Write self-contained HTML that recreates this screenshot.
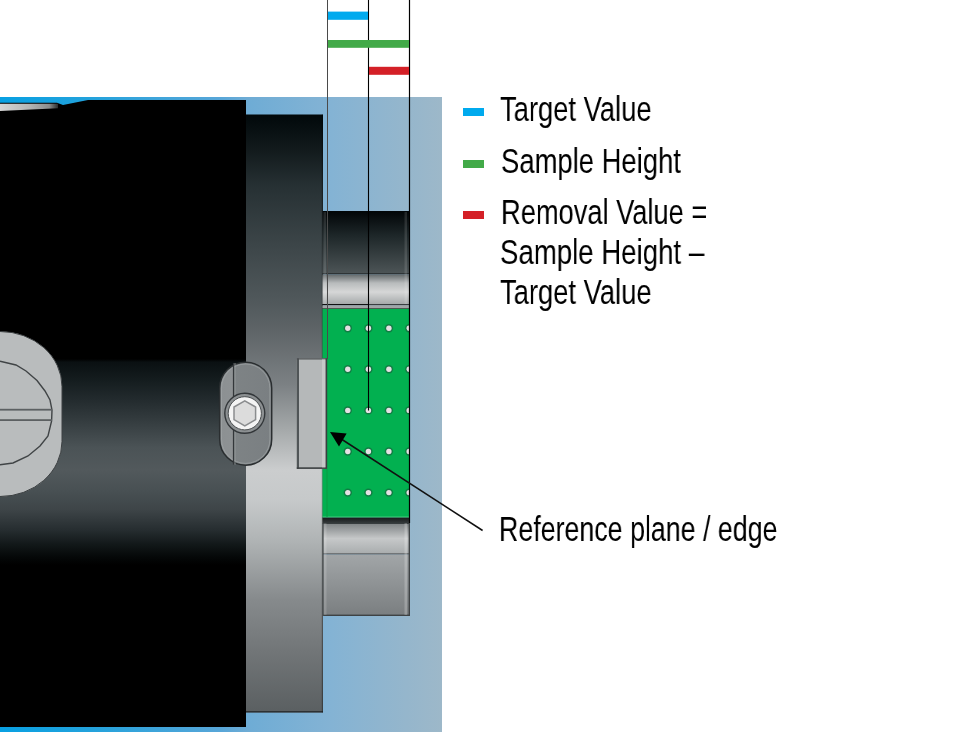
<!DOCTYPE html>
<html>
<head>
<meta charset="utf-8">
<style>
html,body{margin:0;padding:0;background:#fff;}
body{width:974px;height:732px;overflow:hidden;position:relative;font-family:"Liberation Sans",sans-serif;}
svg{position:absolute;left:0;top:0;}
.t{position:absolute;left:0;top:0;white-space:nowrap;font-size:35.5px;color:#000;will-change:transform;transform-origin:0 0;transform:scaleX(0.742);line-height:40px;}
.d{position:absolute;width:21px;height:8px;left:463px;}
</style>
</head>
<body>
<svg width="974" height="732" viewBox="0 0 974 732">
<defs>
<linearGradient id="bg" x1="0" y1="0" x2="442" y2="0" gradientUnits="userSpaceOnUse">
<stop offset="0" stop-color="#08a0e2"/>
<stop offset="0.2" stop-color="#22a2dc"/>
<stop offset="0.5" stop-color="#58a6d8"/>
<stop offset="0.56" stop-color="#6eacd5"/>
<stop offset="0.75" stop-color="#84b3d4"/>
<stop offset="0.92" stop-color="#95b6cc"/>
<stop offset="1" stop-color="#9db8c9"/>
</linearGradient>
<linearGradient id="shaft" x1="0" y1="359" x2="0" y2="565" gradientUnits="userSpaceOnUse">
<stop offset="0" stop-color="#000"/>
<stop offset="0.015" stop-color="#0a1012"/>
<stop offset="0.10" stop-color="#141c1e"/>
<stop offset="0.20" stop-color="#232b2e"/>
<stop offset="0.30" stop-color="#343c3f"/>
<stop offset="0.43" stop-color="#4b5356"/>
<stop offset="0.54" stop-color="#52595c"/>
<stop offset="0.64" stop-color="#485053"/>
<stop offset="0.73" stop-color="#3e4548"/>
<stop offset="0.83" stop-color="#262d30"/>
<stop offset="0.90" stop-color="#121819"/>
<stop offset="0.96" stop-color="#050808"/>
<stop offset="1" stop-color="#000"/>
</linearGradient>
<linearGradient id="panel" x1="0" y1="114.5" x2="0" y2="713" gradientUnits="userSpaceOnUse">
<stop offset="0" stop-color="#01080a"/>
<stop offset="0.059" stop-color="#121a1c"/>
<stop offset="0.118" stop-color="#263033"/>
<stop offset="0.226" stop-color="#3e474a"/>
<stop offset="0.31" stop-color="#50585b"/>
<stop offset="0.36" stop-color="#5e6467"/>
<stop offset="0.452" stop-color="#7c8184"/>
<stop offset="0.527" stop-color="#a5a9aa"/>
<stop offset="0.594" stop-color="#cbcdce"/>
<stop offset="0.644" stop-color="#c6c9ca"/>
<stop offset="0.711" stop-color="#b0b4b5"/>
<stop offset="0.811" stop-color="#868a8c"/>
<stop offset="0.895" stop-color="#727678"/>
<stop offset="1" stop-color="#5a5f61"/>
</linearGradient>
<linearGradient id="cylA" x1="0" y1="211" x2="0" y2="273" gradientUnits="userSpaceOnUse">
<stop offset="0" stop-color="#010507"/>
<stop offset="0.4" stop-color="#1e2729"/>
<stop offset="1" stop-color="#4c5456"/>
</linearGradient>
<linearGradient id="cylB" x1="0" y1="274" x2="0" y2="304" gradientUnits="userSpaceOnUse">
<stop offset="0" stop-color="#5e6466"/>
<stop offset="0.3" stop-color="#b8bbbc"/>
<stop offset="0.6" stop-color="#d6d7d7"/>
<stop offset="1" stop-color="#a6aaab"/>
</linearGradient>
<linearGradient id="cylC" x1="0" y1="523" x2="0" y2="554" gradientUnits="userSpaceOnUse">
<stop offset="0" stop-color="#7c8082"/>
<stop offset="0.5" stop-color="#c6c8c9"/>
<stop offset="1" stop-color="#a8acad"/>
</linearGradient>
<linearGradient id="cylD" x1="0" y1="554" x2="0" y2="616" gradientUnits="userSpaceOnUse">
<stop offset="0" stop-color="#a2a6a8"/>
<stop offset="0.5" stop-color="#8e9294"/>
<stop offset="1" stop-color="#7a7e80"/>
</linearGradient>
</defs>
<!-- blue background -->
<rect x="0" y="97" width="442" height="635" fill="url(#bg)"/>
<!-- black body -->
<polygon points="0,102.8 57,102.8 63,105 88,100 246,100 246,727 0,727" fill="#000"/>
<linearGradient id="gstrip" x1="0" y1="0" x2="58" y2="0" gradientUnits="userSpaceOnUse"><stop offset="0" stop-color="#d6d6d6"/><stop offset="0.5" stop-color="#b4b6b6"/><stop offset="0.85" stop-color="#8a8c8c"/><stop offset="1" stop-color="#2a2c2c"/></linearGradient>
<polygon points="0,103.8 58,103.8 58,108.2 0,111" fill="url(#gstrip)"/>
<!-- shaft -->
<rect x="0" y="359" width="246" height="206" fill="url(#shaft)"/>
<!-- left round cap -->
<rect x="-62" y="331.5" width="124" height="165" rx="62" ry="55" fill="#b9bcbd" stroke="#3c4042" stroke-width="1"/>
<polyline points="0,361.2 16,365 26,371 37,380.5 45,391 50,400 52,410 51.6,421 48,436 40,446 28,456 13,463 0,464.8" fill="none" stroke="#404446" stroke-width="1.4"/>
<rect x="0" y="408.8" width="52" height="1.8" fill="#5c6062"/>
<rect x="0" y="419.2" width="52" height="1.8" fill="#5c6062"/>
<!-- gray panel -->
<rect x="246" y="114.5" width="77" height="598" fill="url(#panel)"/>
<rect x="321.8" y="114.5" width="1.2" height="598" fill="#000" opacity="0.35"/>
<rect x="246" y="711" width="77" height="1.5" fill="#1a1e20" opacity="0.7"/>
<!-- slot oval with bolt -->
<linearGradient id="oval" x1="219.5" y1="0" x2="271.5" y2="0" gradientUnits="userSpaceOnUse"><stop offset="0" stop-color="#8c9092"/><stop offset="0.27" stop-color="#8e9294"/><stop offset="0.28" stop-color="#7e8385"/><stop offset="1" stop-color="#7a7f82"/></linearGradient>
<rect x="219.7" y="362.2" width="52" height="103" rx="26" ry="26" fill="url(#oval)" stroke="#2a2e30" stroke-width="1.5"/>
<rect x="221.5" y="364" width="48.4" height="99.4" rx="24.2" ry="24.2" fill="none" stroke="#a4a8aa" stroke-width="0.8" opacity="0.8"/>
<line x1="233.6" y1="363" x2="233.6" y2="464.6" stroke="#33373a" stroke-width="1.4"/>
<line x1="235" y1="363" x2="235" y2="464.6" stroke="#9a9ea0" stroke-width="0.8"/>
<circle cx="244.8" cy="413.3" r="20" fill="#8c9092" stroke="#33373a" stroke-width="1.4"/>
<circle cx="244.8" cy="413.3" r="16.6" fill="#f4f4f4" stroke="#4a4e50" stroke-width="1"/>
<polygon points="244.8,400.8 255.6,407 255.6,419.6 244.8,425.8 234,419.6 234,407" fill="#dcdcdc" stroke="#8a8c8e" stroke-width="1.5"/>
<!-- right components -->
<rect x="322.5" y="211" width="87" height="62" fill="url(#cylA)"/>
<rect x="322.5" y="273" width="87" height="1.5" fill="#2e3436"/>
<rect x="322.5" y="274.5" width="87" height="29.5" fill="url(#cylB)"/>
<rect x="322.5" y="304" width="46" height="1.3" fill="#111"/>
<rect x="368" y="304" width="41" height="1.3" fill="#3a3e40"/>
<rect x="322.5" y="305.3" width="87" height="2.7" fill="#a2a5a7"/>
<rect x="322.5" y="308" width="87" height="1" fill="#4a5a50"/>
<rect x="322.5" y="309" width="87" height="208.5" fill="#02b050"/>
<linearGradient id="dstrip" x1="0" y1="517.5" x2="0" y2="524" gradientUnits="userSpaceOnUse"><stop offset="0" stop-color="#16191a"/><stop offset="1" stop-color="#3a3f41"/></linearGradient>
<rect x="322.5" y="517.5" width="87" height="6.5" fill="url(#dstrip)"/>
<rect x="323" y="524" width="86.5" height="30" fill="url(#cylC)"/>
<rect x="323" y="553.5" width="86.5" height="1" fill="#3a3e40"/>
<rect x="323" y="554.5" width="86.5" height="61" fill="url(#cylD)"/>
<rect x="323" y="614.6" width="86.5" height="1.4" fill="#3e4244"/>
<rect x="322.4" y="523" width="1.2" height="93" fill="#4a4e50"/>
<rect x="404.5" y="523" width="2.5" height="92" fill="#fff" opacity="0.22"/>
<rect x="324" y="523" width="2.5" height="92" fill="#fff" opacity="0.15"/>
<rect x="404.5" y="212" width="2.5" height="92" fill="#fff" opacity="0.12"/>
<rect x="323.5" y="212" width="2.5" height="92" fill="#fff" opacity="0.12"/>
<rect x="322.5" y="516" width="86.5" height="1.5" fill="#3fcf7a" opacity="0.5"/>
<!-- reference block -->
<rect x="296.8" y="358.3" width="30" height="110.5" fill="#b5b8b9"/>
<rect x="296.8" y="358.3" width="2.2" height="110.5" fill="#505557"/>
<rect x="296.8" y="358.3" width="30" height="1.2" fill="#4a4e50"/>
<rect x="296.8" y="467.3" width="30" height="1.6" fill="#3c4042"/>
<rect x="322" y="359.5" width="3.6" height="107.8" fill="#c6c8c9"/>
<rect x="325.6" y="358.3" width="1.6" height="110.5" fill="#3a3f41"/>
<!-- dots -->
<clipPath id="gclip"><rect x="322" y="309" width="87" height="209"/></clipPath>
<g clip-path="url(#gclip)">
<circle cx="347.8" cy="328.3" r="4.2" fill="#1d5e3c" opacity="0.6"/><circle cx="347.8" cy="328.3" r="2.7" fill="#e6e0e4"/>
<circle cx="368.4" cy="328.3" r="4.2" fill="#1d5e3c" opacity="0.6"/><circle cx="368.4" cy="328.3" r="2.7" fill="#e6e0e4"/>
<circle cx="388.9" cy="328.3" r="4.2" fill="#1d5e3c" opacity="0.6"/><circle cx="388.9" cy="328.3" r="2.7" fill="#e6e0e4"/>
<circle cx="409.2" cy="328.3" r="4.2" fill="#1d5e3c" opacity="0.6"/><circle cx="409.2" cy="328.3" r="2.7" fill="#e6e0e4"/>
<circle cx="347.8" cy="369.3" r="4.2" fill="#1d5e3c" opacity="0.6"/><circle cx="347.8" cy="369.3" r="2.7" fill="#e6e0e4"/>
<circle cx="368.4" cy="369.3" r="4.2" fill="#1d5e3c" opacity="0.6"/><circle cx="368.4" cy="369.3" r="2.7" fill="#e6e0e4"/>
<circle cx="388.9" cy="369.3" r="4.2" fill="#1d5e3c" opacity="0.6"/><circle cx="388.9" cy="369.3" r="2.7" fill="#e6e0e4"/>
<circle cx="409.2" cy="369.3" r="4.2" fill="#1d5e3c" opacity="0.6"/><circle cx="409.2" cy="369.3" r="2.7" fill="#e6e0e4"/>
<circle cx="347.8" cy="410.4" r="4.2" fill="#1d5e3c" opacity="0.6"/><circle cx="347.8" cy="410.4" r="2.7" fill="#e6e0e4"/>
<circle cx="368.4" cy="410.4" r="4.2" fill="#1d5e3c" opacity="0.6"/><circle cx="368.4" cy="410.4" r="2.7" fill="#e6e0e4"/>
<circle cx="388.9" cy="410.4" r="4.2" fill="#1d5e3c" opacity="0.6"/><circle cx="388.9" cy="410.4" r="2.7" fill="#e6e0e4"/>
<circle cx="409.2" cy="410.4" r="4.2" fill="#1d5e3c" opacity="0.6"/><circle cx="409.2" cy="410.4" r="2.7" fill="#e6e0e4"/>
<circle cx="347.8" cy="451.5" r="4.2" fill="#1d5e3c" opacity="0.6"/><circle cx="347.8" cy="451.5" r="2.7" fill="#e6e0e4"/>
<circle cx="368.4" cy="451.5" r="4.2" fill="#1d5e3c" opacity="0.6"/><circle cx="368.4" cy="451.5" r="2.7" fill="#e6e0e4"/>
<circle cx="388.9" cy="451.5" r="4.2" fill="#1d5e3c" opacity="0.6"/><circle cx="388.9" cy="451.5" r="2.7" fill="#e6e0e4"/>
<circle cx="409.2" cy="451.5" r="4.2" fill="#1d5e3c" opacity="0.6"/><circle cx="409.2" cy="451.5" r="2.7" fill="#e6e0e4"/>
<circle cx="347.8" cy="492.6" r="4.2" fill="#1d5e3c" opacity="0.6"/><circle cx="347.8" cy="492.6" r="2.7" fill="#e6e0e4"/>
<circle cx="368.4" cy="492.6" r="4.2" fill="#1d5e3c" opacity="0.6"/><circle cx="368.4" cy="492.6" r="2.7" fill="#e6e0e4"/>
<circle cx="388.9" cy="492.6" r="4.2" fill="#1d5e3c" opacity="0.6"/><circle cx="388.9" cy="492.6" r="2.7" fill="#e6e0e4"/>
<circle cx="409.2" cy="492.6" r="4.2" fill="#1d5e3c" opacity="0.6"/><circle cx="409.2" cy="492.6" r="2.7" fill="#e6e0e4"/>
</g>
<!-- measurement lines -->
<line x1="327.5" y1="0" x2="327.5" y2="359" stroke="#4a4a4a" stroke-width="1"/>
<line x1="327" y1="469" x2="327" y2="517" stroke="#0a9a42" stroke-width="1"/>
<line x1="368.5" y1="0" x2="368.5" y2="410.5" stroke="#000" stroke-width="1.1"/>
<line x1="409.5" y1="0" x2="409.5" y2="523" stroke="#000" stroke-width="1.2"/>
<rect x="408.6" y="523" width="1.4" height="93" fill="#3e4244"/>
<rect x="328" y="11.6" width="40" height="8.2" fill="#00aaee"/>
<rect x="328" y="40" width="81" height="7.8" fill="#42aa48"/>
<rect x="369" y="66.8" width="40" height="8" fill="#d42027"/>
<!-- pointer -->
<line x1="342" y1="439.5" x2="482.6" y2="530.5" stroke="#111" stroke-width="1.5"/>
<polygon points="330,432 346.6,433.6 339,446.6" fill="#000"/>
</svg>

<div class="d" style="top:107.8px;background:#00aaee"></div>
<div class="d" style="top:159.5px;background:#42aa48"></div>
<div class="d" style="top:211px;background:#d42027"></div>

<div class="t" style="left:500px;top:89px;transform:scaleX(0.7707)">Target Value</div>
<div class="t" style="left:501px;top:141px;transform:scaleX(0.7727)">Sample Height</div>
<div class="t" style="left:501px;top:192px;transform:scaleX(0.7677)">Removal Value =</div>
<div class="t" style="left:500px;top:232px;transform:scaleX(0.7778)">Sample Height –</div>
<div class="t" style="left:500px;top:272px;transform:scaleX(0.7707)">Target Value</div>
<div class="t" style="left:499px;top:509px;transform:scaleX(0.7545)">Reference plane / edge</div>
</body>
</html>
